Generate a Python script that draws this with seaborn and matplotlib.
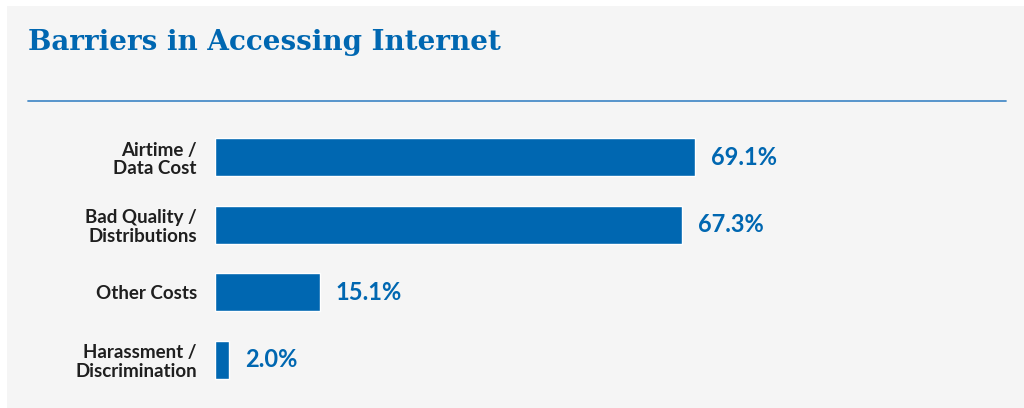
import matplotlib
matplotlib.use("Agg")
import matplotlib.pyplot as plt
import seaborn as sns
import pandas as pd
from matplotlib.patches import Rectangle
from matplotlib.lines import Line2D

# Data
categories = ["Airtime /\nData Cost", "Bad Quality /\nDistributions",
              "Other Costs", "Harassment /\nDiscrimination"]
values = [69.1, 67.3, 15.1, 2.0]
value_labels = ["69.1%", "67.3%", "15.1%", "2.0%"]

BLUE = "#0067b1"
PANEL = "#f5f5f5"

sns.set_theme(style="white")
plt.rcParams["font.family"] = ["Lato", "DejaVu Sans"]

W, H = 1024, 408
fig = plt.figure(figsize=(W / 100, H / 100), dpi=100)
fig.patch.set_facecolor("white")

# gray panel with white margin top/left
fig.patches.append(Rectangle((7 / W, 0), 1 - 7 / W, 1 - 6 / H,
                             transform=fig.transFigure, facecolor=PANEL,
                             edgecolor="none", zorder=-10))

# title and rule
fig.text(28 / W, 1 - 42 / H, "Barriers in Accessing Internet",
         fontsize=20, fontweight="bold", color=BLUE,
         family=["DejaVu Serif"], va="center", ha="left")
fig.add_artist(Line2D([28 / W, 1006 / W], [1 - 100.5 / H, 1 - 100.5 / H],
                      transform=fig.transFigure, color="#4a8cc8", lw=1.3))

# axes placement: bar start at x=215, 6.946 px per unit
px_per_unit = 480 / 69.1
ax_left, ax_right = 215, 1006
ax_top, ax_bot = 157 - 33.8, 360 + 33.8
ax = fig.add_axes([ax_left / W, 1 - ax_bot / H,
                   (ax_right - ax_left) / W, (ax_bot - ax_top) / H])
ax.set_facecolor("none")

df = pd.DataFrame({"category": categories, "value": values})
sns.barplot(data=df, x="value", y="category", color=BLUE, width=0.56,
            saturation=1, ax=ax)

ax.set_xlim(0, (ax_right - ax_left) / px_per_unit)
ax.set_ylim(3.5, -0.5)
ax.set_xlabel("")
ax.set_ylabel("")
ax.set_xticks([])
for s in ax.spines.values():
    s.set_visible(False)
ax.tick_params(axis="y", length=0, pad=13)
for lab in ax.get_yticklabels():
    lab.set_fontsize(13.5)
    lab.set_fontweight("bold")
    lab.set_color("#1f1f1f")
    lab.set_linespacing(1.1)

for i, (v, t) in enumerate(zip(values, value_labels)):
    ax.text(v + 16 / px_per_unit, i, t, color=BLUE, fontsize=17,
            fontweight="bold", va="center", ha="left")

fig.savefig("out.png", dpi=100, facecolor=fig.get_facecolor())
